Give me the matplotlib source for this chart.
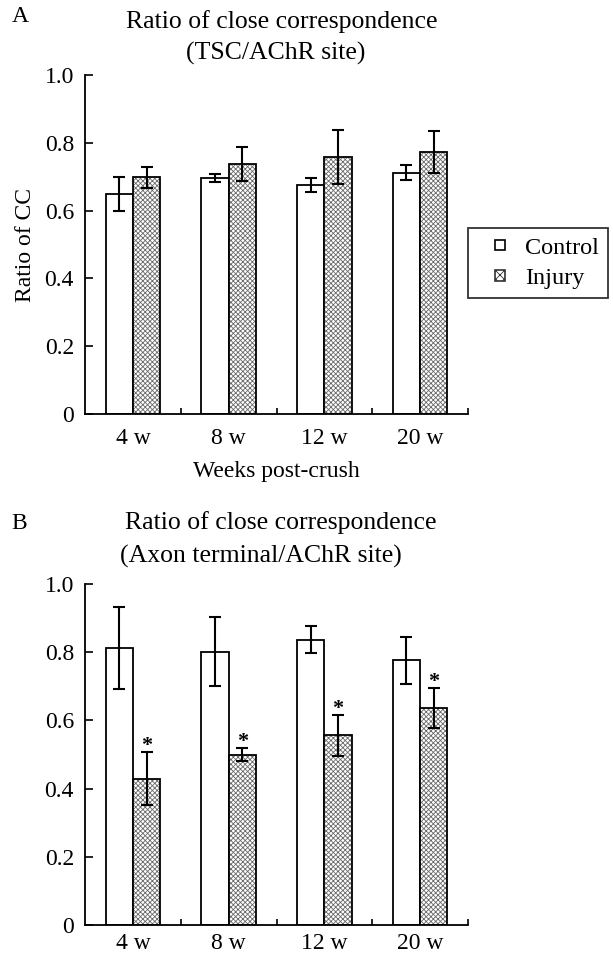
import matplotlib
matplotlib.use('Agg')
import matplotlib.pyplot as plt
import numpy as np
from matplotlib.patches import Patch, Rectangle
from matplotlib.legend_handler import HandlerPatch

# data
weeks = ['4 w', '8 w', '12 w', '20 w']

tsc_control = [0.650, 0.697, 0.675, 0.712]
tsc_control_err = [0.050, 0.012, 0.021, 0.022]
tsc_injury = [0.698, 0.738, 0.758, 0.774]
tsc_injury_err = [0.032, 0.051, 0.081, 0.062]

axon_control = [0.812, 0.802, 0.837, 0.776]
axon_control_err = [0.120, 0.100, 0.039, 0.070]
axon_injury = [0.429, 0.500, 0.557, 0.636]
axon_injury_err = [0.078, 0.020, 0.060, 0.059]

y_ticks = [0, 0.2, 0.4, 0.6, 0.8, 1.0]
y_ticklabels = ['0', '0.2', '0.4', '0.6', '0.8', '1.0']

plt.rcParams['font.family'] = ['Liberation Serif', 'DejaVu Serif']
plt.rcParams['hatch.linewidth'] = 0.6

W, H = 613, 955
fig = plt.figure(figsize=(W / 100, H / 100), dpi=100)

bar_w = 0.285
hatch_col = '#6a6a6a'


def fx(px):
    return px / W


def fy(py):
    return 1 - py / H


def draw_panel(ax, ctrl, ctrl_err, inj, inj_err, stars=False, xpad=8):
    x = np.arange(len(weeks))
    xc = x - bar_w / 2
    xi = x + bar_w / 2
    ax.bar(xc, ctrl, width=bar_w, color='white', edgecolor='black', linewidth=1.3, zorder=2)
    # hatched fill then black outline
    ax.bar(xi, inj, width=bar_w, color='white', edgecolor=hatch_col, hatch='xxxxxxx',
           linewidth=0, zorder=2)
    ax.bar(xi, inj, width=bar_w, fill=False, edgecolor='black', linewidth=1.3, zorder=3)
    ax.errorbar(xc, ctrl, yerr=ctrl_err, fmt='none', ecolor='black', elinewidth=1.5,
                capsize=4, capthick=1.5, zorder=4)
    ax.errorbar(xi, inj, yerr=inj_err, fmt='none', ecolor='black', elinewidth=1.5,
                capsize=4, capthick=1.5, zorder=4)
    if stars:
        for xx, v, e in zip(xi, inj, inj_err):
            ax.annotate('*', (xx, v + e), xytext=(0, -3), textcoords='offset points',
                        ha='center', va='bottom', fontsize=16, fontweight='bold')

    ax.set_xlim(-0.5, len(weeks) - 0.5)
    ax.set_ylim(0, 1.0)
    ax.set_yticks(y_ticks)
    ax.set_yticklabels(y_ticklabels)
    ax.set_xticks(x)
    ax.set_xticklabels(weeks)
    ax.set_xticks(np.arange(len(weeks)) + 0.5, minor=True)
    ax.tick_params(axis='x', which='major', length=0, pad=xpad, labelsize=17)
    ax.tick_params(axis='x', which='minor', direction='in', length=4, width=1.2)
    ax.tick_params(axis='y', direction='in', length=6, width=1.2, pad=8, labelsize=17)
    for s in ['top', 'right']:
        ax.spines[s].set_visible(False)
    for s in ['left', 'bottom']:
        ax.spines[s].set_linewidth(1.3)


axA = fig.add_axes([fx(85), fy(414), fx(468) - fx(85), fy(75) - fy(414)])
draw_panel(axA, tsc_control, tsc_control_err, tsc_injury, tsc_injury_err, xpad=10)
axA.set_xlabel('Weeks post-crush', fontsize=17, labelpad=9)
axA.set_ylabel('Ratio of CC', fontsize=17, labelpad=6)

axB = fig.add_axes([fx(85), fy(925), fx(468) - fx(85), fy(584) - fy(925)])
draw_panel(axB, axon_control, axon_control_err, axon_injury, axon_injury_err,
           stars=True, xpad=6)

# panel letters and titles
fig.text(fx(12), fy(16), 'A', fontsize=17, va='center', ha='left')
fig.text(fx(282), fy(22), 'Ratio of close correspondence', fontsize=18.5, ha='center', va='center')
fig.text(fx(276), fy(53), '(TSC/AChR site)', fontsize=18.5, ha='center', va='center')

fig.text(fx(11), fy(523), 'B', fontsize=17, va='center', ha='left')
fig.text(fx(281), fy(523), 'Ratio of close correspondence', fontsize=18.5, ha='center', va='center')
fig.text(fx(261), fy(556), '(Axon terminal/AChR site)', fontsize=18.5, ha='center', va='center')


# legend with small square handles
def small_square(legend, orig_handle, xdescent, ydescent, width, height, fontsize):
    s = 0.42 * fontsize
    return Rectangle((width / 2 - s / 2 - xdescent, height / 2 - s / 2 - ydescent), s, s)


handles = [Patch(facecolor='white', edgecolor='black', linewidth=1.2, label='Control'),
           Patch(facecolor='white', edgecolor='#333333', hatch='xxxx', linewidth=1.2, label='Injury')]
leg = fig.legend(handles=handles, loc='upper left', bbox_to_anchor=(fx(468), fy(228)),
                 fontsize=17.5, frameon=True, fancybox=False, edgecolor='black',
                 borderpad=0.35, handlelength=1.95, handleheight=0.7, handletextpad=0.05,
                 labelspacing=0.35, borderaxespad=0,
                 handler_map={Patch: HandlerPatch(patch_func=small_square)})
leg.get_frame().set_linewidth(1.3)

fig.savefig('out.png', dpi=100, facecolor='white')
